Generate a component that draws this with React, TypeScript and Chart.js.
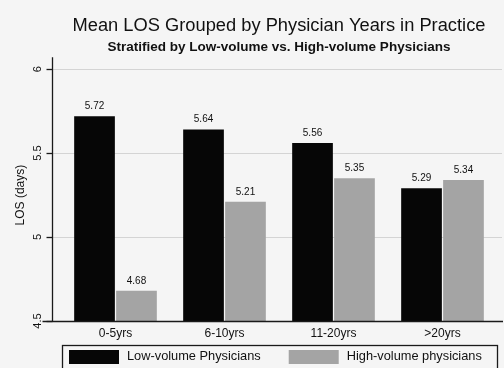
import React, { useEffect, useRef } from "react";
import { Chart, registerables } from "chart.js";

Chart.register(...registerables);

const categories = ["0-5yrs", "6-10yrs", "11-20yrs", ">20yrs"];
const lowVolume = [5.72, 5.64, 5.56, 5.29];
const highVolume = [4.68, 5.21, 5.35, 5.34];
const yTicks = [4.5, 5, 5.5, 6];
const seriesNames = ["Low-volume Physicians", "High-volume physicians"];
const seriesColors = ["#060606", "#a4a4a4"];
const titleText = "Mean LOS Grouped by Physician Years in Practice";
const subtitleText = "Stratified by Low-volume vs. High-volume Physicians";
const yTitle = "LOS (days)";

const FONT = "'Liberation Sans', Arial, Helvetica, sans-serif";
const INK = "#111111";

export default function App() {
  const ref = useRef<HTMLCanvasElement>(null);

  useEffect(() => {
    const canvas = ref.current;
    if (!canvas) return;

    const bgPlugin = {
      id: "bgFill",
      beforeDraw(chart: any) {
        const ctx = chart.ctx;
        ctx.save();
        ctx.fillStyle = "#f5f5f5";
        ctx.fillRect(0, 0, chart.width, chart.height);
        ctx.restore();
      },
    };

    const decorPlugin = {
      id: "decor",
      beforeDatasetsDraw(chart: any) {
        const { ctx, chartArea, scales } = chart;
        const y = scales.y;
        const axisX = chartArea.left - 9;
        ctx.save();
        ctx.strokeStyle = "#d4d4d4";
        ctx.lineWidth = 1;
        yTicks.slice(1).forEach((v) => {
          const py = Math.round(y.getPixelForValue(v)) + 0.5;
          ctx.beginPath();
          ctx.moveTo(axisX, py);
          ctx.lineTo(chart.width - 2, py);
          ctx.stroke();
        });
        ctx.restore();
      },
      afterDatasetsDraw(chart: any) {
        const { ctx, chartArea, scales } = chart;
        const y = scales.y;
        const axisX = Math.round(chartArea.left - 9) + 0.5;
        const bottom = Math.round(y.getPixelForValue(yTicks[0])) + 0.5;
        ctx.save();
        ctx.strokeStyle = "#1a1a1a";
        ctx.lineWidth = 1.3;
        ctx.beginPath();
        ctx.moveTo(axisX, chartArea.top - 12);
        ctx.lineTo(axisX, bottom);
        ctx.stroke();
        ctx.beginPath();
        ctx.moveTo(axisX - 10, bottom);
        ctx.lineTo(chart.width - 1, bottom);
        ctx.stroke();
        yTicks.forEach((v) => {
          const py = Math.round(y.getPixelForValue(v)) + 0.5;
          ctx.beginPath();
          ctx.moveTo(axisX - 6, py);
          ctx.lineTo(axisX, py);
          ctx.stroke();
        });
        ctx.fillStyle = INK;
        ctx.font = `10px ${FONT}`;
        ctx.textAlign = "center";
        ctx.textBaseline = "bottom";
        chart.data.datasets.forEach((ds: any, di: number) => {
          const meta = chart.getDatasetMeta(di);
          meta.data.forEach((el: any, i: number) => {
            ctx.fillText(Number(ds.data[i]).toFixed(2), el.x, el.y - 5);
          });
        });
        ctx.restore();
      },
      afterDraw(chart: any) {
        // legend drawn from the chart's datasets
        const { ctx, chartArea } = chart;
        const left = Math.round(chartArea.left + 1) + 0.5;
        const right = Math.round(chartArea.right) + 0.5;
        const top = Math.round(chartArea.bottom + 24) + 0.5;
        ctx.save();
        ctx.strokeStyle = "#1a1a1a";
        ctx.lineWidth = 1.3;
        ctx.strokeRect(left, top, right - left, chart.height + 10 - top);
        ctx.font = `12.8px ${FONT}`;
        const sw = 50;
        const sh = 14;
        const textGap = 8;
        const itemGap = 28;
        const items = chart.data.datasets.map((ds: any) => ({
          text: ds.label,
          color: ds.backgroundColor,
          w: ctx.measureText(ds.label).width,
        }));
        const total =
          items.reduce((a: number, it: any) => a + sw + textGap + it.w, 0) +
          itemGap * (items.length - 1);
        let x = Math.round((left + right) / 2 - total / 2) - 5;
        const boxTop = top + 4;
        const cy = boxTop + sh / 2;
        ctx.textAlign = "left";
        ctx.textBaseline = "middle";
        items.forEach((it: any) => {
          ctx.fillStyle = it.color;
          ctx.fillRect(x, Math.round(boxTop), sw, sh);
          ctx.fillStyle = INK;
          ctx.fillText(it.text, x + sw + textGap, cy);
          x += sw + textGap + it.w + itemGap;
        });
        ctx.restore();
      },
    };

    const chart = new Chart(canvas, {
      type: "bar",
      data: {
        labels: categories,
        datasets: [
          {
            label: seriesNames[0],
            data: lowVolume,
            backgroundColor: seriesColors[0],
            categoryPercentage: 0.77,
            barPercentage: 0.97,
          },
          {
            label: seriesNames[1],
            data: highVolume,
            backgroundColor: seriesColors[1],
            categoryPercentage: 0.77,
            barPercentage: 0.97,
          },
        ],
      },
      options: {
        animation: false,
        responsive: false,
        devicePixelRatio: 1,
        layout: { padding: { left: 0, right: 7, top: 0, bottom: 28 } },
        plugins: {
          title: {
            display: true,
            fullSize: false,
            text: titleText,
            color: INK,
            font: { family: FONT, size: 18.3, weight: "normal" },
            padding: { top: 15, bottom: 1 },
          },
          subtitle: {
            display: true,
            fullSize: false,
            text: subtitleText,
            color: INK,
            font: { family: FONT, size: 13.5, weight: "bold" },
            padding: { top: 1, bottom: 14 },
          },
          legend: { display: false },
          tooltip: { enabled: false },
        },
        scales: {
          x: {
            grid: { display: false, drawTicks: false, tickLength: 0 },
            border: { display: false },
            ticks: { padding: 5, color: INK, font: { family: FONT, size: 12 } },
            afterFit: (s: any) => {
              s.height = 19;
            },
          },
          y: {
            min: yTicks[0],
            max: yTicks[yTicks.length - 1],
            afterBuildTicks: (s: any) => {
              s.ticks = yTicks.map((v) => ({ value: v }));
            },
            afterFit: (s: any) => {
              s.width = 61;
            },
            grid: { display: false },
            border: { display: false },
            ticks: {
              minRotation: 90,
              maxRotation: 90,
              crossAlign: "center",
              padding: 7,
              color: INK,
              font: { family: FONT, size: 11 },
              callback: (v: any) => String(v),
            },
            title: {
              display: true,
              text: yTitle,
              color: INK,
              font: { family: FONT, size: 12 },
              padding: { top: 13, bottom: 0 },
            },
          },
        },
      },
      plugins: [bgPlugin, decorPlugin],
    } as any);

    return () => chart.destroy();
  }, []);

  return (
    <div
      style={{
        position: "fixed",
        left: 0,
        top: 0,
        width: 504,
        height: 368,
        overflow: "hidden",
        background: "#f5f5f5",
      }}
    >
      <canvas ref={ref} width={504} height={368} style={{ display: "block" }} />
    </div>
  );
}
